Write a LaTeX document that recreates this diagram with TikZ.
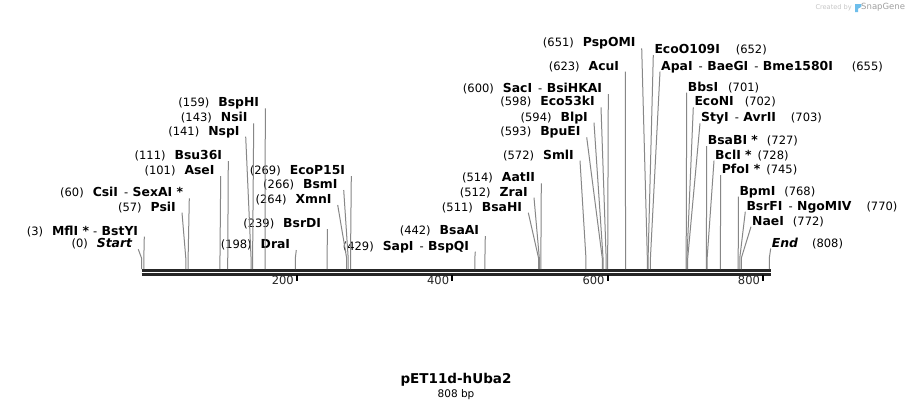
\documentclass[tikz,border=0pt]{standalone}
\usepackage{fontspec}
\setmainfont{DejaVu Sans}
\usetikzlibrary{positioning}
\definecolor{cutgray}{RGB}{135,135,135}
\definecolor{bardark}{RGB}{38,38,38}
\definecolor{sglogo}{RGB}{110,190,235}
\newcommand{\enz}[1]{{\fontsize{12.4}{14}\selectfont\bfseries #1}}
\newcommand{\gp}{\hspace{9pt}}
\newcommand{\dsh}{\hspace{6pt}-\hspace{4.5pt}}

\begin{document}
\begin{tikzpicture}[x=1pt,y=-1pt]

\tikzset{lblL/.style={font=\fontsize{11.5}{13}\selectfont, anchor=base east, inner xsep=6pt, inner ysep=0pt},
  lblR/.style={lblL, anchor=base west, inner xsep=1pt},
  cutline/.style={draw=cutgray, line width=1pt},
  barline/.style={draw=bardark, line width=3pt},
  tickmark/.style={draw=black, line width=2pt}}

    \def\bpx{0.777} % pixels per bp
    \def\cutsite#1#2{\draw[cutline] ([yshift=-1.5]#1) -- ([xshift=#2*\bpx, yshift=11]o) -- ([xshift=#2*\bpx]o);}

    \fill[white] (0,0) rectangle (913,408);
    \useasboundingbox (0,0) rectangle (913,408);

    % Sequence bar
    \coordinate (o) at (141.5,269);
    \coordinate (e) at (770.5,269);
    \draw[barline] ([yshift=-1.5]o) -- ([yshift=-1.5]e);
    \draw[barline] ([yshift=-5.5]o) -- ([yshift=-5.5]e);
    \foreach \t in {200,400,600,800} {
      \draw[tickmark] ([xshift=\t*\bpx, yshift=-6]o) -- ([xshift=\t*\bpx, yshift=-12]o);
      \node[font=\fontsize{11.5}{13}\selectfont, text=bardark, anchor=base east, inner sep=0pt]
        (t\t) at ([xshift=\t*\bpx-3, yshift=-15]o) {\t};
    }

    % Sites left of their cut
    \node[lblL] (sStart) at (138.3,247.8) {(0)\gp\enz{\itshape Start}};
    \node[lblL] (sMflI) at (144.3,235.2) {(3)\gp\enz{MflI *}\hspace{4pt}-\hspace{4.5pt}\enz{BstYI}};
    \node[lblL] (sPsiI) at (182,211.2) {(57)\gp\enz{PsiI}};
    \node[lblL] (sCsiI) at (189.3,196.8) {(60)\gp\enz{CsiI}\dsh\enz{SexAI *}};
    \node[lblL] (sAseI) at (220.7,174.5) {(101)\gp\enz{AseI}};
    \node[lblL] (sBsu36I) at (228.3,159.5) {(111)\gp\enz{Bsu36I}};
    \node[lblL] (sNspI) at (245.7,135.2) {(141)\gp\enz{NspI}};
    \node[lblL] (sNsiI) at (253.7,121.8) {(143)\gp\enz{NsiI}};
    \node[lblL] (sBspHI) at (265.3,106.8) {(159)\gp\enz{BspHI}};
    \node[lblL] (sDraI) at (296.3,248.5) {(198)\gp\enz{DraI}};
    \node[lblL] (sBsrDI) at (327.3,227.5) {(239)\gp\enz{BsrDI}};
    \node[lblL] (sXmnI) at (337.7,203.5) {(264)\gp\enz{XmnI}};
    \node[lblL] (sBsmI) at (343.7,188.5) {(266)\gp\enz{BsmI}};
    \node[lblL] (sEcoP15I) at (351.3,174.5) {(269)\gp\enz{EcoP15I}};
    \node[lblL] (sSapI) at (475.3,250.2) {(429)\gp\enz{SapI}\dsh\enz{BspQI}};
    \node[lblL] (sBsaAI) at (485.3,234.5) {(442)\gp\enz{BsaAI}};
    \node[lblL] (sBsaHI) at (528.3,211.2) {(511)\gp\enz{BsaHI}};
    \node[lblL] (sZraI) at (534,196.2) {(512)\gp\enz{ZraI}};
    \node[lblL] (sAatII) at (541.3,181.8) {(514)\gp\enz{AatII}};
    \node[lblL] (sSmlI) at (580,159.2) {(572)\gp\enz{SmlI}};
    \node[lblL] (sBpuEI) at (586.7,135.8) {(593)\gp\enz{BpuEI}};
    \node[lblL] (sBlpI) at (594,121.2) {(594)\gp\enz{BlpI}};
    \node[lblL] (sEco53kI) at (601,105.8) {(598)\gp\enz{Eco53kI}};
    \node[lblL] (sSacI) at (608.3,92.5) {(600)\gp\enz{SacI}\dsh\enz{BsiHKAI}};
    \node[lblL] (sAcuI) at (625.3,70.2) {(623)\gp\enz{AcuI}};
    \node[lblL] (sPspOMI) at (641.7,46.8) {(651)\gp\enz{PspOMI}};

    % Sites right of their cut
    \node[lblR] (sEcoO109I) at (653.3,53.5) {\enz{EcoO109I}\hspace{16pt}(652)};
    \node[lblR] (sApaI) at (660,70.2) {\enz{ApaI}\dsh\enz{BaeGI}\dsh\enz{Bme1580I}\hspace{19pt}(655)};
    \node[lblR] (sBbsI) at (686.7,91.2) {\enz{BbsI}\hspace{10pt}(701)};
    \node[lblR] (sEcoNI) at (693.3,105.8) {\enz{EcoNI}\hspace{11pt}(702)};
    \node[lblR] (sStyI) at (700,121.8) {\enz{StyI}\dsh\enz{AvrII}\hspace{15pt}(703)};
    \node[lblR] (sBsaBI) at (706.7,144.5) {\enz{BsaBI *}\hspace{9pt}(727)};
    \node[lblR] (sBclI) at (714,159.2) {\enz{BclI *}\hspace{6pt}(728)};
    \node[lblR] (sPfoI) at (720.7,173.5) {\enz{PfoI *}\hspace{6pt}(745)};
    \node[lblR] (sBpmI) at (738.3,195.2) {\enz{BpmI}\hspace{9pt}(768)};
    \node[lblR] (sBsrFI) at (745.3,210.2) {\enz{BsrFI}\dsh\enz{NgoMIV}\hspace{15pt}(770)};
    \node[lblR] (sNaeI) at (751,225.2) {\enz{NaeI}\hspace{9pt}(772)};
    \node[lblR] (sEnd) at (770.7,247) {\enz{\itshape End}\hspace{14pt}(808)};

    % Cut lines
    \cutsite{sStart.base east}{0}
    \cutsite{sMflI.base east}{3}
    \cutsite{sPsiI.base east}{57}
    \cutsite{sCsiI.base east}{60}
    \cutsite{sAseI.base east}{101}
    \cutsite{sBsu36I.base east}{111}
    \cutsite{sNspI.base east}{141}
    \cutsite{sNsiI.base east}{143}
    \cutsite{sBspHI.base east}{159}
    \cutsite{sDraI.base east}{198}
    \cutsite{sBsrDI.base east}{239}
    \cutsite{sXmnI.base east}{264}
    \cutsite{sBsmI.base east}{266}
    \cutsite{sEcoP15I.base east}{269}
    \cutsite{sSapI.base east}{429}
    \cutsite{sBsaAI.base east}{442}
    \cutsite{sBsaHI.base east}{511}
    \cutsite{sZraI.base east}{512}
    \cutsite{sAatII.base east}{514}
    \cutsite{sSmlI.base east}{572}
    \cutsite{sBpuEI.base east}{593}
    \cutsite{sBlpI.base east}{594}
    \cutsite{sEco53kI.base east}{598}
    \cutsite{sSacI.base east}{600}
    \cutsite{sAcuI.base east}{623}
    \cutsite{sPspOMI.base east}{651}
    \cutsite{sEcoO109I.base west}{652}
    \cutsite{sApaI.base west}{655}
    \cutsite{sBbsI.base west}{701}
    \cutsite{sEcoNI.base west}{702}
    \cutsite{sStyI.base west}{703}
    \cutsite{sBsaBI.base west}{727}
    \cutsite{sBclI.base west}{728}
    \cutsite{sPfoI.base west}{745}
    \cutsite{sBpmI.base west}{768}
    \cutsite{sBsrFI.base west}{770}
    \cutsite{sNaeI.base west}{772}
    \cutsite{sEnd.base west}{808}

    % Title
    \node[font=\fontsize{13.5}{16}\selectfont\bfseries, anchor=base] (title) at (456,383) {pET11d-hUba2};
    \node[font=\fontsize{10.5}{12}\selectfont, anchor=base] (len) at (456,397) {808 bp};

    % Watermark
    \node[font=\fontsize{6.6}{8}\selectfont, text=gray!45, anchor=base west, inner sep=0pt] (made) at (815.3,9.8) {Created by};
    \fill[sglogo] (855,4) -- (861.5,4) .. controls (862.8,6) and (860.5,8.3) .. (858.2,8.6) -- (858.2,12) -- (855,12) -- cycle;
    \node[font=\fontsize{8.5}{10}\selectfont, text=gray!75, inner sep=0pt, right=9pt of made.base east, anchor=base west] (sg) {SnapGene};

\end{tikzpicture}
\end{document}
